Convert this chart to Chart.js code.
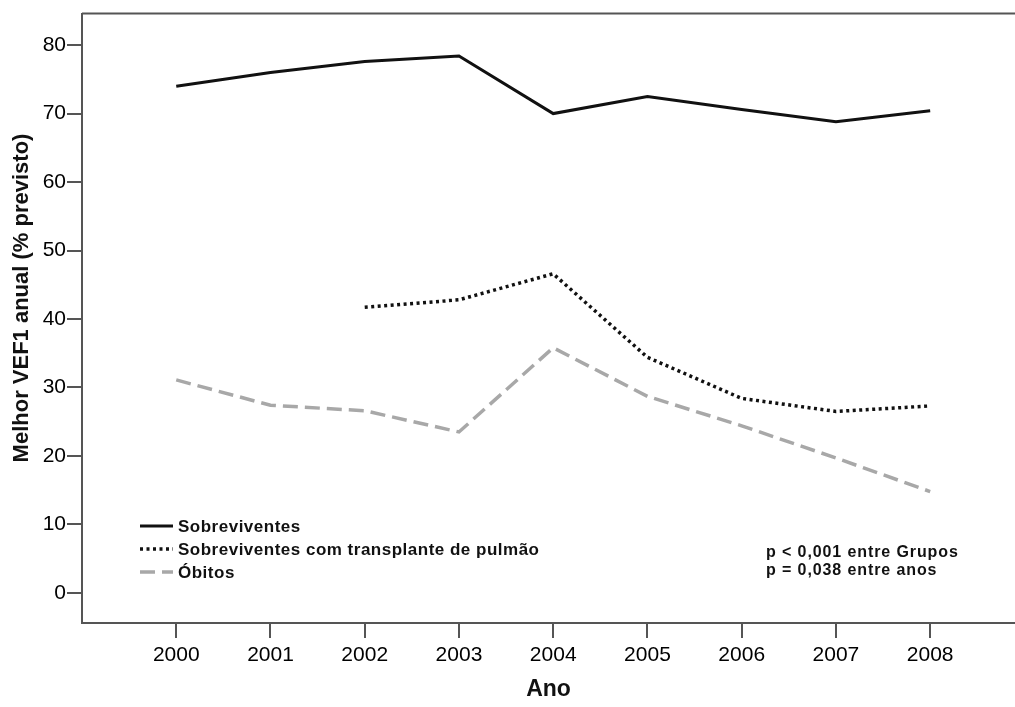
<!DOCTYPE html>
<html>
<head>
<meta charset="utf-8">
<script src="https://cdn.jsdelivr.net/npm/chart.js@4/dist/chart.umd.min.js"></script>
<style>
  html, body { margin: 0; padding: 0; background: #fff; }
  #wrap { width: 1015px; height: 707px; }
</style>
</head>
<body>
<div id="wrap"><canvas id="line-chart" width="1015" height="707"></canvas></div>
<script>
let anos = [2000, 2001, 2002, 2003, 2004, 2005, 2006, 2007, 2008];
let y_ticks = [0, 10, 20, 30, 40, 50, 60, 70, 80];
let sobreviventes = [74.0, 76.0, 77.6, 78.4, 70.0, 72.5, 70.6, 68.8, 70.4];
let transplante = [null, null, 41.7, 42.8, 46.6, 34.4, 28.4, 26.5, 27.3];
let obitos = [31.1, 27.4, 26.6, 23.5, 35.8, 28.7, 24.4, 19.7, 14.8];
let nomes = ["Sobreviventes", "Sobreviventes com transplante de pulmão", "Óbitos"];
let notas = ["p < 0,001 entre Grupos", "p = 0,038 entre anos"];
let titulo_y = "Melhor VEF1 anual (% previsto)";

const toPoints = arr => anos.map((a, i) => ({x: a, y: arr[i]})).filter(p => p.y !== null);
const FONT = "'Liberation Sans', Arial, sans-serif";
const AXIS = "#555";

// legend, p-values, y title and top frame line
const extras = {
  id: 'extras',
  afterDraw(chart) {
    const ctx = chart.ctx;
    const ca = chart.chartArea;
    ctx.save();
    ctx.strokeStyle = AXIS;
    ctx.lineWidth = 2;
    ctx.beginPath();
    ctx.moveTo(ca.left, ca.top);
    ctx.lineTo(ca.right, ca.top);
    ctx.stroke();

    ctx.fillStyle = "#111";
    ctx.textBaseline = "middle";

    // y title (sits a bit above centre in the original)
    ctx.save();
    ctx.translate(22, 298);
    ctx.rotate(-Math.PI / 2);
    ctx.textAlign = "center";
    ctx.font = "bold 22px " + FONT;
    ctx.fillText(titulo_y, 0, 0);
    ctx.restore();

    ctx.font = "bold 17px " + FONT;
    ctx.letterSpacing = "0.5px";
    const rows = [526, 549, 572];
    chart.data.datasets.forEach((ds, i) => {
      ctx.strokeStyle = ds.borderColor;
      ctx.lineWidth = ds.borderWidth;
      ctx.setLineDash(ds.borderDash || []);
      ctx.beginPath();
      ctx.moveTo(140, rows[i]);
      ctx.lineTo(173, rows[i]);
      ctx.stroke();
      ctx.fillText(ds.label, 178, rows[i] + 1);
    });
    ctx.setLineDash([]);
    ctx.font = "bold 16px " + FONT;
    ctx.letterSpacing = "0.9px";
    ctx.fillText(notas[0], 766, 553);
    ctx.fillText(notas[1], 766, 571);
    ctx.restore();
  }
};

var ctx = document.getElementById('line-chart');
let myChart = new Chart(ctx, {
  type: 'line',
  data: {
    datasets: [
      { label: nomes[0], data: toPoints(sobreviventes), borderColor: "#111", borderWidth: 3, fill: false },
      { label: nomes[1], data: toPoints(transplante), borderColor: "#111", borderWidth: 3.5, borderDash: [3, 3.5], fill: false },
      { label: nomes[2], data: toPoints(obitos), borderColor: "#a8a8a8", borderWidth: 3.5, borderDash: [15, 7], fill: false }
    ]
  },
  options: {
    responsive: false,
    animation: false,
    devicePixelRatio: 1,
    elements: { point: { radius: 0 }, line: { tension: 0 } },
    layout: { padding: { top: 5, right: 0, left: 0, bottom: 0 } },
    plugins: { legend: { display: false }, tooltip: { enabled: false } },
    scales: {
      x: {
        type: 'linear',
        min: 1999,
        max: 2008.9,
        afterBuildTicks: s => { s.ticks = anos.map(v => ({value: v})); },
        afterFit: s => { s.height = 84; },
        grid: { drawOnChartArea: false, drawTicks: true, tickLength: 15, color: AXIS, lineWidth: 2 },
        border: { display: true, color: AXIS, width: 2 },
        ticks: { font: { family: FONT, size: 21 }, color: "#000", padding: 5, callback: v => String(v) },
        title: { display: true, text: "Ano", font: { family: FONT, size: 23, weight: 'bold' }, color: "#111", padding: { top: 4 } }
      },
      y: {
        min: -4.4,
        max: 84.6,
        afterBuildTicks: s => { s.ticks = y_ticks.map(v => ({value: v})); },
        afterFit: s => { s.width = 82; },
        grid: { drawOnChartArea: false, drawTicks: true, tickLength: 15, color: AXIS, lineWidth: 2 },
        border: { display: true, color: AXIS, width: 2 },
        ticks: { font: { family: FONT, size: 21 }, color: "#000", padding: 1 }
      }
    }
  },
  plugins: [extras]
});
</script>
</body>
</html>
